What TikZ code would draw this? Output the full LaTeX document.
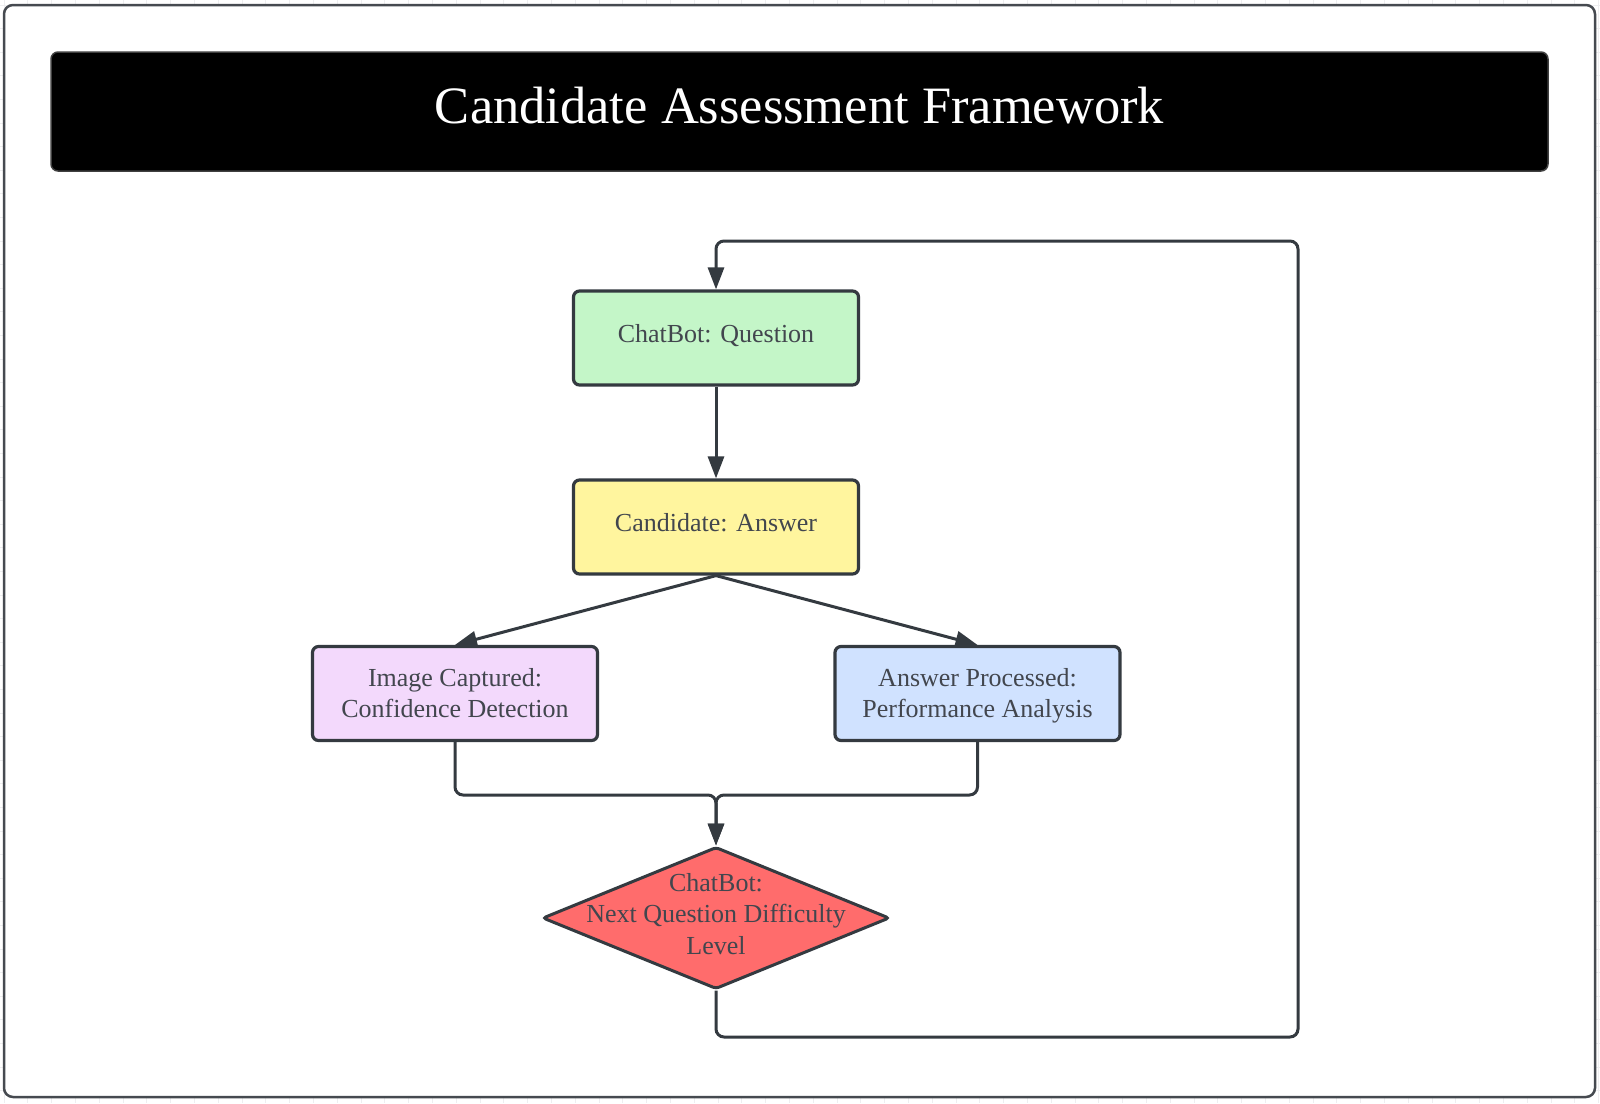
\documentclass[tikz,border=0pt]{standalone}
\usepackage{fontspec}
\setmainfont{Liberation Serif}
\usetikzlibrary{arrows.meta,shapes.geometric}
\definecolor{strokec}{RGB}{52,58,64}
\definecolor{framec}{RGB}{70,74,80}
\definecolor{txtc}{RGB}{66,70,78}
\definecolor{gridc}{RGB}{238,238,240}
\definecolor{greenc}{RGB}{196,246,200}
\definecolor{yellowc}{RGB}{255,245,158}
\definecolor{pinkc}{RGB}{243,217,252}
\definecolor{bluec}{RGB}{208,226,255}
\definecolor{redc}{RGB}{255,108,108}
\begin{document}
\begin{tikzpicture}[x=1pt,y=-1pt,
  box/.style={draw=strokec, line width=3.2pt, rounded corners=6pt,
    minimum width=285pt, minimum height=94pt, inner sep=0pt,
    align=center, text=txtc, font=\fontsize{26}{31.5}\selectfont},
  oneline/.style={text height=18pt, text depth=8.8pt},
  twoline/.style={text depth=0.8pt},
  conn/.style={draw=strokec, line width=3pt, rounded corners=8pt,
    -{Triangle[length=22pt,width=16pt]}},
  lbl/.style={align=center, text=txtc, inner sep=0pt,
    font=\fontsize{26}{31.5}\selectfont}
]
\useasboundingbox (0,0) rectangle (1600,1103);
% faint background grid
\foreach \i in {0,...,67} \draw[gridc, line width=0.8pt] (4+\i*23.8,0) -- (4+\i*23.8,1103);
\foreach \j in {0,...,47} \draw[gridc, line width=0.8pt] (0,5+\j*23.6) -- (1600,5+\j*23.6);
% outer frame
\draw[framec, line width=2.5pt, fill=white, rounded corners=9pt] (4,5) rectangle (1595,1097);
% title bar
\node[draw=black!75, fill=black, line width=1.5pt, rounded corners=7pt,
  minimum width=1497pt, minimum height=119pt, inner sep=0pt] (titlebar) at (799.5,111.5) {};
\node[text=white, inner sep=0pt, font=\fontsize{52.5}{63}\selectfont] (titletext) at (799.5,106) {Candidate Assessment Framework};
% nodes
\node[box, oneline, fill=greenc] (q) at (716,338) {ChatBot: Question};
\node[box, oneline, fill=yellowc] (a) at (716,527) {Candidate: Answer};
\node[box, twoline, fill=pinkc] (img) at (455,693.5) {Image Captured:\\Confidence Detection};
\node[box, twoline, fill=bluec] (proc) at (977.5,693.5) {Answer Processed:\\Performance Analysis};
\node[diamond, draw=strokec, fill=redc, line width=3pt, rounded corners=3pt,
  minimum width=347pt, minimum height=142pt, inner sep=0pt] (dia) at (716,918) {};
\node[lbl] (dialbl) at (716,914) {ChatBot:\\Next Question Difficulty\\Level};
% helper coordinates
\coordinate (mergeL) at (455,795);
\coordinate (mergeR) at (977.5,795);
\coordinate (mergeC) at (716,795);
\coordinate (loopA) at (716,1037);
\coordinate (loopB) at (1298,1037);
\coordinate (loopC) at (1298,241);
\coordinate (loopD) at (716,241);
% connectors
\draw[conn] (q.south) -- (a.north);
\draw[conn, rounded corners=0pt] (a.south) -- (img.north);
\draw[conn, rounded corners=0pt] (a.south) -- (proc.north);
\draw[conn] (img.south) -- (mergeL) -- (mergeC) -- (dia.north);
\draw[conn] (proc.south) -- (mergeR) -- (mergeC) -- (dia.north);
\draw[conn] (dia.south) -- (loopA) -- (loopB) -- (loopC) -- (loopD) -- (q.north);
\end{tikzpicture}
\end{document}
